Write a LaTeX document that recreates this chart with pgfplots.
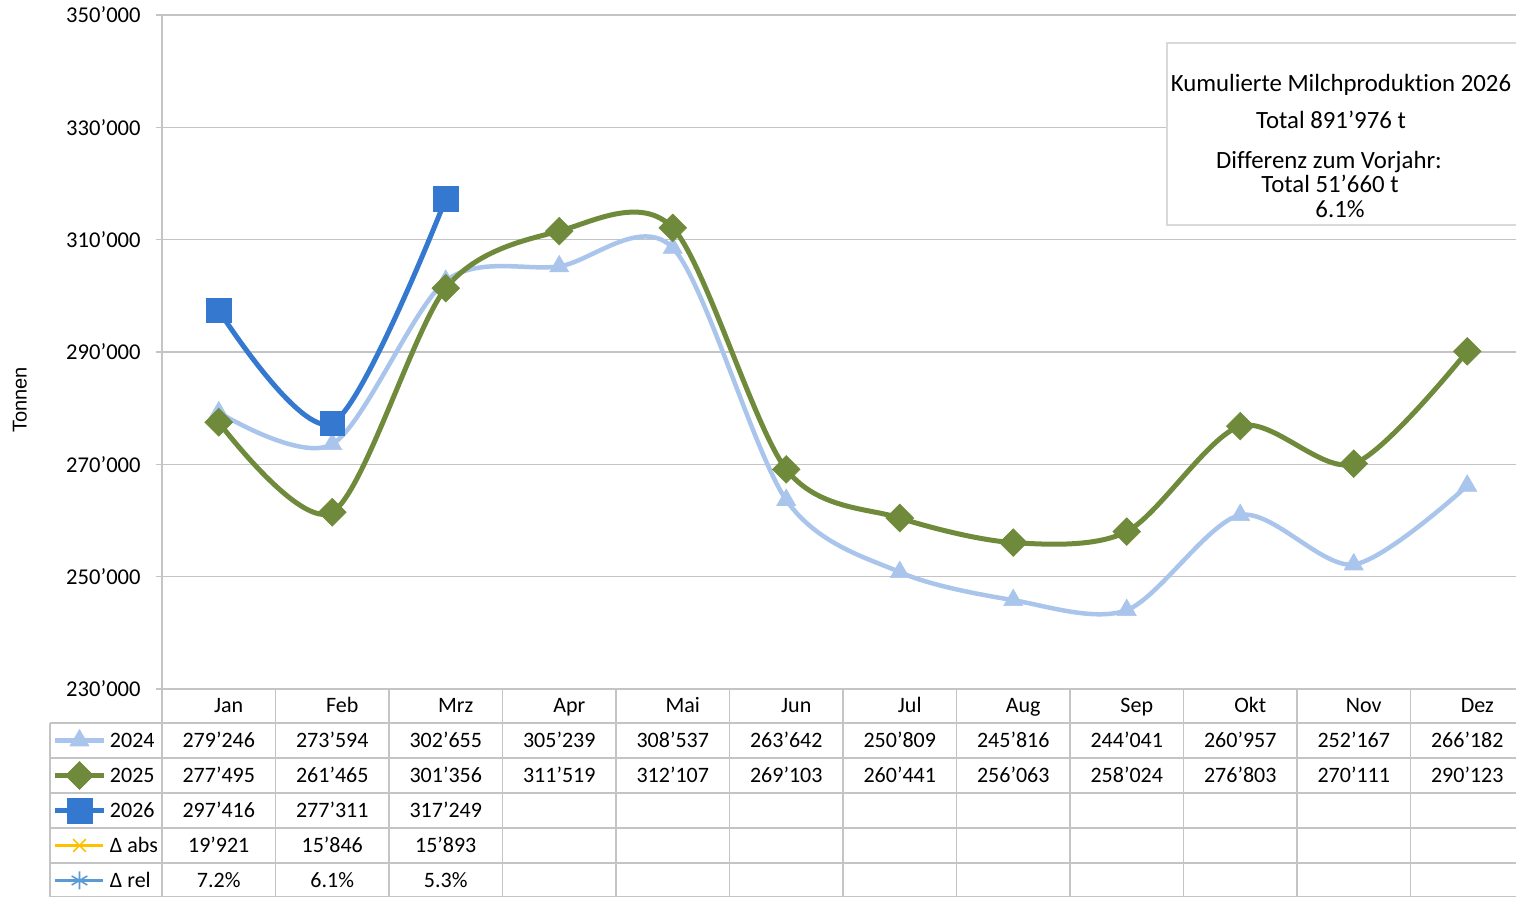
\documentclass[border=0pt]{standalone}
\usepackage{pgfplots}
\pgfplotsset{compat=1.18}
\usepackage{fontspec}
\setmainfont{Carlito}[Ligatures={NoCommon,NoDiscretionary,NoRare}]
\newfontfamily\arialfont{Liberation Sans}
\definecolor{c24}{HTML}{A9C5EB}
\definecolor{c25}{HTML}{6F8A3A}
\definecolor{c26}{HTML}{3479CF}
\definecolor{cabs}{HTML}{FFC000}
\definecolor{crel}{HTML}{5B9BD5}
\definecolor{gridc}{HTML}{C4C4C4}
\definecolor{boxc}{HTML}{D9D9D9}
\begin{document}
\begin{tikzpicture}[font=\fontsize{11}{13}\selectfont,
  tab/.style={inner sep=0pt, text height=7pt, text depth=0pt, anchor=center},
  boxt/.style={inner sep=0pt, text height=8pt, text depth=0pt, anchor=center, font=\fontsize{12.4}{14}\selectfont}]
\path[use as bounding box] (-81pt,-104pt) rectangle (677pt,344.5pt);
\begin{axis}[
  scale only axis, width=681pt, height=337pt,
  at={(0pt,0pt)}, anchor=south west,
  xmin=-0.5, xmax=11.5, ymin=230000, ymax=350000,
  clip=false,
  axis x line*=bottom, axis y line*=left,
  axis line style={gridc, line width=0.6pt},
  xtick={0,...,11},
  xticklabels={Jan,Feb,Mrz,Apr,Mai,Jun,Jul,Aug,Sep,Okt,Nov,Dez},
  major x tick style={draw=none},
  xticklabel style={anchor=base, yshift=-8.75pt, xshift=5pt, inner sep=0pt},
  ytick={230000,250000,270000,290000,310000,330000,350000},
  yticklabels={230’000,250’000,270’000,290’000,310’000,330’000,350’000},
  tick align=outside, major tick length=3pt,
  major y tick style={gridc, line width=0.6pt},
  yticklabel style={anchor=east, inner sep=0pt, xshift=-7.5pt, font=\fontsize{11.3}{13}\selectfont},
  ymajorgrids, major grid style={gridc, line width=0.6pt},
  ylabel={Tonnen},
  ylabel style={at={(axis description cs:-0.1043,0.4288)}, anchor=center, font=\arialfont\fontsize{10}{12}\selectfont},
  legend cell align=left,
  legend image code/.code={\draw[mark repeat=2,mark phase=2,#1] plot coordinates {(0pt,0pt) (12pt,0pt) (24pt,0pt)};},
  legend style={at={(axis description cs:0,0)}, anchor=north west, xshift=-54.5pt, yshift=-17pt,
    draw=none, fill=none, inner sep=0pt, outer sep=0pt, row sep=0pt,
    nodes={inner sep=0pt, minimum height=17.5pt, text height=7pt, text depth=0pt},
    /tikz/every odd column/.append style={column sep=2pt}},
]
\addplot[c24, line width=2.25pt, smooth, tension=0.5, mark=triangle*, mark size=5.5pt, mark options={solid, line width=0.3pt}]
  coordinates {(0,279246) (1,273594) (2,302655) (3,305239) (4,308537) (5,263642) (6,250809) (7,245816) (8,244041) (9,260957) (10,252167) (11,266182)};
\addlegendentry{2024}
\addplot[c25, line width=2.5pt, smooth, tension=0.5, mark=square*, mark size=4.9pt, mark options={solid, rotate=45, line width=0.3pt, rounded corners=1pt}]
  coordinates {(0,277495) (1,261465) (2,301356) (3,311519) (4,312107) (5,269103) (6,260441) (7,256063) (8,258024) (9,276803) (10,270111) (11,290123)};
\addlegendentry{2025}
\addplot[c26, line width=2.5pt, smooth, tension=0.5, mark=square*, mark size=6.2pt, mark options={solid, line width=0.3pt, rounded corners=1.5pt}]
  coordinates {(0,297416) (1,277311) (2,317249)};
\addlegendentry{2026}
\addlegendimage{cabs, line width=1.5pt, mark=x, mark size=4.5pt, mark options={line width=0.8pt}}
\addlegendentry{Δ abs}
\addlegendimage{crel, line width=1.5pt, mark=asterisk, mark size=4.5pt, mark options={line width=0.8pt}}
\addlegendentry{Δ rel}
\end{axis}
% table grid
\foreach \k in {0,...,12} \draw[gridc, line width=0.6pt] ({\k*56.75pt},0pt) -- ({\k*56.75pt},-104pt);
\draw[gridc, line width=0.6pt] (-56pt,-17pt) -- (-56pt,-104pt);
\foreach \yy in {-17,-34.5,-52,-69.5,-87,-104} \draw[gridc, line width=0.6pt] (-56pt,\yy pt) -- (681pt,\yy pt);
% table values
\foreach \v [count=\i from 0] in {279’246,273’594,302’655,305’239,308’537,263’642,250’809,245’816,244’041,260’957,252’167,266’182}
  \node[tab] at ({(\i+0.5)*56.75pt},-25.75pt) {\v};
\foreach \v [count=\i from 0] in {277’495,261’465,301’356,311’519,312’107,269’103,260’441,256’063,258’024,276’803,270’111,290’123}
  \node[tab] at ({(\i+0.5)*56.75pt},-43.25pt) {\v};
\foreach \v [count=\i from 0] in {297’416,277’311,317’249}
  \node[tab] at ({(\i+0.5)*56.75pt},-60.75pt) {\v};
\foreach \v [count=\i from 0] in {19’921,15’846,15’893}
  \node[tab] at ({(\i+0.5)*56.75pt},-78.25pt) {\v};
\foreach \v [count=\i from 0] in {7.2\%,6.1\%,5.3\%}
  \node[tab] at ({(\i+0.5)*56.75pt},-95.75pt) {\v};
% text box
\draw[boxc, fill=white, line width=0.8pt] (502.5pt,232pt) rectangle (690pt,323pt);
\node[boxt] at (589.5pt,302.5pt) {Kumulierte Milchproduktion 2026};
\node[boxt] at (584.5pt,284pt) {Total 891’976 t};
\node[boxt] at (583.5pt,264pt) {Differenz zum Vorjahr:};
\node[boxt] at (584pt,252pt) {Total 51’660 t};
\node[boxt] at (589pt,239.5pt) {6.1\%};
\end{tikzpicture}
\end{document}
